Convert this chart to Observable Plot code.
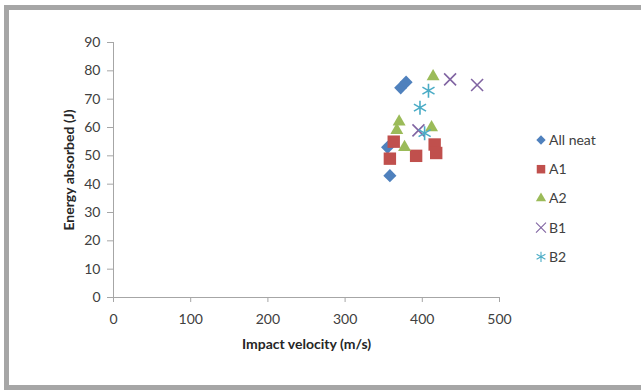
<!DOCTYPE html>
<html>
<head>
<meta charset="utf-8">
<script src="https://cdn.jsdelivr.net/npm/d3@7"></script>
<script src="https://cdn.jsdelivr.net/npm/@observablehq/plot@0.6"></script>
<style>
  html, body { margin: 0; padding: 0; background: #fff; overflow: hidden; width: 641px; height: 390px; }
  #frame { position: absolute; left: 4px; top: 5px; width: 700px; height: 385px; box-sizing: border-box; border: 5px solid #a6a6a6; border-right: none; border-bottom-width: 5px; background: #fff; }
  #chart { position: absolute; left: 0; top: 0; }
  #chart svg { font-family: Lato, "Open Sans", sans-serif; }
  #chart svg g[aria-label$="tick label"] text, #chart svg g[aria-label$="tick label"] { fill: #404040; }
  #chart svg g[aria-label$="axis label"] text { font-weight: bold; fill: #262626; }
  #legend { position: absolute; left: 0; top: 0; }
</style>
</head>
<body>
<div id="frame"></div>
<div id="chart"></div>
<svg id="legend" width="641" height="390"></svg>
<script>
const seriesNames = ["All neat", "A1", "A2", "B1", "B2"];
const seriesColors = ["#4F81BD", "#C0504D", "#9BBB59", "#8064A2", "#4BACC6"];
const xTicks = [0, 100, 200, 300, 400, 500];
const yTicks = [0, 10, 20, 30, 40, 50, 60, 70, 80, 90];

const allNeatVelocity = [372, 379, 355, 358];
const allNeatEnergy   = [74, 76, 53, 43];
const a1Velocity = [363, 358, 392, 416, 418];
const a1Energy   = [55, 49, 50, 54, 51];
const a2Velocity = [414, 370, 367, 377, 412];
const a2Energy   = [78, 62, 59, 53, 60];
const b1Velocity = [436, 471, 395];
const b1Energy   = [77, 75, 59];
const b2Velocity = [408, 397, 403];
const b2Energy   = [73, 67, 58];

const toRows = (vs, es) => vs.map((v, i) => ({v, e: es[i]}));
const data = [
  toRows(allNeatVelocity, allNeatEnergy),
  toRows(a1Velocity, a1Energy),
  toRows(a2Velocity, a2Energy),
  toRows(b1Velocity, b1Energy),
  toRows(b2Velocity, b2Energy)
];

const symbols = ["diamond2", "square", "triangle", "times", "asterisk"];
const radii = [5.9, 7.0, 4.8, 5.5, 6.6];
const filled = [true, true, true, false, false];

const dotMarks = data.map((rows, i) => Plot.dot(rows, filled[i]
  ? {x: "v", y: "e", symbol: () => symbols[i], r: radii[i], fill: seriesColors[i], stroke: "none"}
  : {x: "v", y: "e", symbol: () => symbols[i], r: radii[i], stroke: seriesColors[i], strokeWidth: 1.6, fill: "none"}));

const chart = Plot.plot({
  width: 641,
  height: 390,
  marginLeft: 113,
  marginRight: 142,
  marginTop: 42,
  marginBottom: 93,
  style: {background: "transparent", fontSize: "14px"},
  x: {domain: [0, 500]},
  y: {domain: [0, 90]},
  symbol: {type: "identity"},
  marks: [
    Plot.axisX({ticks: xTicks, tickSize: 5, tickPadding: 12, stroke: "#a6a6a6", label: "Impact velocity (m/s)", labelAnchor: "center", labelOffset: 51, labelArrow: "none", fontSize: 14}),
    Plot.axisY({ticks: yTicks, tickSize: 6, tickPadding: 7, stroke: "#a6a6a6", label: "Energy absorbed (J)", labelAnchor: "center", labelOffset: 49, labelArrow: "none", fontSize: 14}),
    Plot.ruleY([0], {stroke: "#a6a6a6"}),
    Plot.ruleX([0], {stroke: "#a6a6a6"}),
    ...dotMarks
  ]
});
document.getElementById("chart").appendChild(chart);

// Legend
const legend = d3.select("#legend");
const symMap = {diamond2: d3.symbolDiamond2, square: d3.symbolSquare, triangle: d3.symbolTriangle, times: d3.symbolTimes, asterisk: d3.symbolAsterisk};
const legendRadii = [4.2, 4.8, 3.8, 4.6, 4.8];
const legendX = 541, legendY0 = 140, legendStep = 29.2;
seriesNames.forEach((name, i) => {
  const g = legend.append("g").attr("transform", `translate(${legendX},${legendY0 + i * legendStep})`);
  const path = d3.symbol(symMap[symbols[i]], Math.PI * legendRadii[i] ** 2)();
  const p = g.append("path").attr("d", path);
  if (filled[i]) p.attr("fill", seriesColors[i]);
  else p.attr("fill", "none").attr("stroke", seriesColors[i]).attr("stroke-width", 1.1);
  g.append("text").attr("x", 8).attr("dy", "0.35em")
    .attr("font-family", "Lato, 'Open Sans', sans-serif").attr("font-size", 14).attr("fill", "#404040")
    .text(name);
});
</script>
</body>
</html>
